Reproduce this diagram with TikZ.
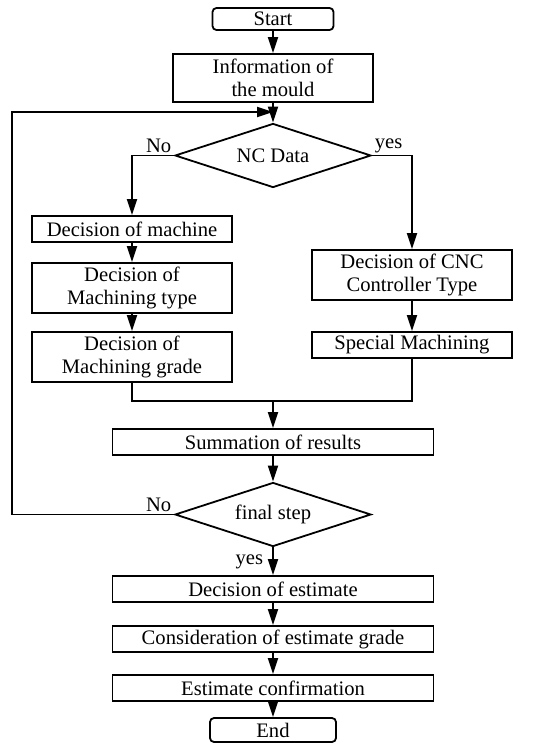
\documentclass[tikz,border=0pt]{standalone}
\usepackage{fontspec}
\setmainfont{Liberation Serif}
\usetikzlibrary{shapes.geometric,arrows.meta}
\tikzset{
  box/.style={draw,rectangle,minimum width=100pt,minimum height=13pt,inner sep=1pt,
    align=center,font=\fontsize{10.3}{11.5}\selectfont},
  wide/.style={box,minimum width=160.5pt},
  twoline/.style={box,minimum height=25pt},
  term/.style={box,rounded corners=2pt,minimum width=60.5pt,minimum height=11pt},
  decision/.style={draw,diamond,aspect=3,minimum width=98pt,minimum height=32pt,inner sep=0pt,
    font=\fontsize{10.3}{11.5}\selectfont},
  lbl/.style={inner sep=1pt,font=\fontsize{10.3}{11.5}\selectfont}
}
\begin{document}
\begin{tikzpicture}[x=0.5pt,y=-0.5pt,line width=0.9pt,>={Triangle[length=8pt,width=5pt]}]
      \useasboundingbox (0,0) rectangle (535,744);
      \draw
        (273,19) node[term] (start){Start}
        (273,78) node[box,minimum height=24pt] (info){Information of\\the mould}
        (273,155.5) node[decision] (ncdata){NC Data}
        (132,229) node[box] (machine){Decision of machine}
        (132,288) node[twoline] (mtype){Decision of\\Machining type}
        (132,357) node[twoline] (mgrade){Decision of\\Machining grade}
        (412,275) node[twoline] (cnc){Decision of CNC\\Controller Type}
        (412,345) node[box] (special){Special Machining}
        (273,442) node[wide] (summ){Summation of results}
        (273,514.5) node[decision] (final){final step}
        (273,589) node[wide] (estim){Decision of estimate}
        (273,639) node[wide] (consid){Consideration of estimate grade}
        (273,688) node[wide] (confirm){Estimate confirmation}
        (273,730) node[term,minimum width=63pt,minimum height=12pt] (stop){End};
      \coordinate (loopin) at (273,112);
      \coordinate (merge) at (273,401);
      \coordinate (leftside) at (12,0);
      \node[lbl,anchor=south east] (no1) at (ncdata.west) {No};
      \node[lbl,anchor=south west] (yes1) at (ncdata.east) {yes};
      \node[lbl,anchor=south east] (no2) at (final.west) {No};
      \node[lbl,anchor=east] (yes2) at (266,562) {yes};
      \begin{scope}[->]
        \draw (start) to (info);
        \draw (info) to (ncdata);
        \draw (ncdata.west) -| (machine.north);
        \draw (ncdata.east) -| (cnc.north);
        \draw (machine) to (mtype);
        \draw (mtype) to (mgrade);
        \draw (cnc) to (special);
        \draw (merge) to (summ);
        \draw (summ) to (final);
        \draw (final) to (estim);
        \draw (estim) to (consid);
        \draw (consid) to (confirm);
        \draw (confirm) to (stop);
        \draw (final.west) -- (final.west -| leftside) |- (loopin);
      \end{scope}
      \draw (mgrade.south) |- (merge) -| (special.south);
    \end{tikzpicture}
\end{document}
